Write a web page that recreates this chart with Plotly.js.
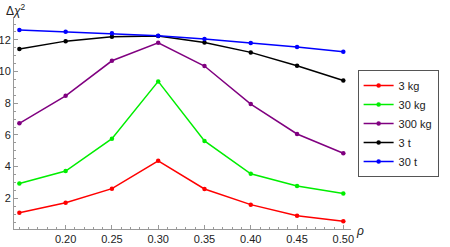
<!DOCTYPE html>
<html><head><meta charset="utf-8">
<script src="https://cdn.plot.ly/plotly-3.0.1.min.js"></script>
<style>html,body{margin:0;padding:0;background:#fff}#plot{width:450px;height:247px}</style>
</head><body><div id="plot"></div>
<script>
const rho = [0.15, 0.20, 0.25, 0.30, 0.35, 0.40, 0.45, 0.50];
const names = ["3 kg", "30 kg", "300 kg", "3 t", "30 t"];
const colors = ["#ff0000", "#00ee00", "#800080", "#000000", "#0000ff"];
const s3kg   = [1.09, 1.72, 2.61, 4.37, 2.59, 1.60, 0.90, 0.55];
const s30kg  = [2.94, 3.72, 5.76, 9.38, 5.62, 3.55, 2.78, 2.31];
const s300kg = [6.73, 8.47, 10.68, 11.82, 10.35, 7.95, 6.06, 4.84];
const s3t    = [11.42, 11.92, 12.20, 12.24, 11.84, 11.21, 10.37, 9.44];
const s30t   = [12.62, 12.51, 12.41, 12.26, 12.05, 11.80, 11.55, 11.25];
const series = [s3kg, s30kg, s300kg, s3t, s30t];
const xTicks = [0.20, 0.25, 0.30, 0.35, 0.40, 0.45, 0.50];
const yTicks = [2, 4, 6, 8, 10, 12];

const traces = series.map((ys, i) => ({
  x: rho, y: ys, name: names[i], type: "scatter", mode: "lines+markers",
  line: {color: colors[i], width: 1.5},
  marker: {color: colors[i], size: 4.5}
}));

const axisCommon = {
  showgrid: false, zeroline: false, showline: true, linecolor: "#999", linewidth: 1,
  ticks: "inside", ticklen: 4, tickcolor: "#999", tickwidth: 1,
  tickfont: {family: "Liberation Sans, Arial, sans-serif", size: 11, color: "#222"}
};

const layout = {
  width: 450, height: 247,
  margin: {l: 14, r: 88, t: 18, b: 18},
  paper_bgcolor: "#fff", plot_bgcolor: "#fff",
  showlegend: true,
  legend: {
    x: 1.26, xanchor: "right", y: 0.50, yanchor: "middle",
    bgcolor: "#fff", bordercolor: "#555", borderwidth: 1,
    font: {family: "Liberation Sans, Arial, sans-serif", size: 11, color: "#222"}
  },
  xaxis: Object.assign({}, axisCommon, {
    range: [0.1442, 0.5083], tickmode: "array", tickvals: xTicks,
    ticktext: xTicks.map(v => v.toFixed(2)),
    minor: {tickmode: "linear", tick0: 0.15, dtick: 0.01, ticks: "inside", ticklen: 2, tickcolor: "#999"}
  }),
  yaxis: Object.assign({}, axisCommon, {
    range: [0.063, 13.38], tickmode: "array", tickvals: yTicks,
    minor: {tickmode: "linear", tick0: 0, dtick: 0.5, ticks: "inside", ticklen: 2, tickcolor: "#999"}
  }),
  annotations: [
    {text: "Δ<i>χ</i><sup>2</sup>", xref: "paper", yref: "paper", x: -0.03, y: 1.04,
     xanchor: "left", yanchor: "middle", showarrow: false,
     font: {family: "Liberation Sans, Arial, sans-serif", size: 12, color: "#222"}},
    {text: "<i>ρ</i>", xref: "paper", yref: "paper", x: 1.026, y: -0.01,
     xanchor: "center", yanchor: "middle", showarrow: false,
     font: {family: "Liberation Sans, Arial, sans-serif", size: 12, color: "#222"}}
  ]
};

Plotly.newPlot("plot", traces, layout, {displayModeBar: false, staticPlot: true});
</script></body></html>
